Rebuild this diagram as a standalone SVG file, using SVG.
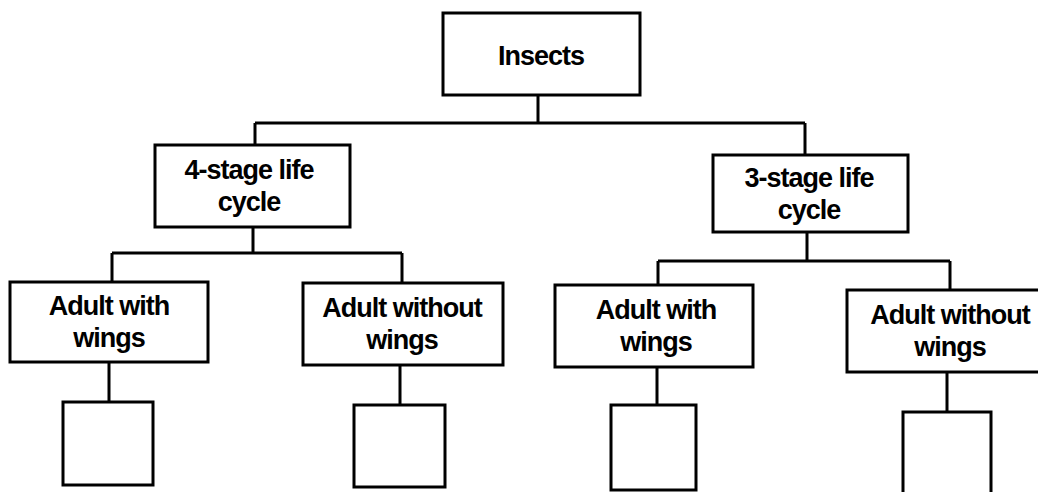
<svg xmlns="http://www.w3.org/2000/svg" width="1038" height="492" viewBox="0 0 1038 492">
<style>
.box{fill:#fff;stroke:#000;stroke-width:3}
.ln{fill:none;stroke:#000;stroke-width:3}
.t{font-family:"Liberation Sans",Arial,sans-serif;font-weight:bold;font-size:27px;letter-spacing:-1px;text-anchor:middle;fill:#000}
</style>
<rect width="1038" height="492" fill="#fff"/>
<g id="connectors">
<path class="ln" d="M538 95V123M255 123H805M255 123V145M805 123V155"/>
<path class="ln" d="M253 227V253M112 253H402M112 253V282M402 253V283"/>
<path class="ln" d="M807 232V261M658 261H950M658 261V285M950 261V290"/>
<path class="ln" d="M109 362V402M400 365V405M657 367V405M947 372V412"/>
</g>
<g id="insects"><rect class="box" x="443" y="13" width="197" height="82"/><text class="t" x="541" y="65">Insects</text></g>
<g id="four-stage"><rect class="box" x="155" y="145" width="195" height="82"/><text class="t" x="249" y="179">4-stage life</text><text class="t" x="249" y="211">cycle</text></g>
<g id="three-stage"><rect class="box" x="713" y="155" width="195" height="77"/><text class="t" x="809" y="187">3-stage life</text><text class="t" x="809" y="219">cycle</text></g>
<g id="adult-wings-1"><rect class="box" x="10" y="282" width="198" height="80"/><text class="t" x="109" y="315">Adult with</text><text class="t" x="109" y="347">wings</text></g>
<g id="adult-nowings-1"><rect class="box" x="303" y="283" width="200" height="82"/><text class="t" x="402" y="317">Adult without</text><text class="t" x="402" y="349">wings</text></g>
<g id="adult-wings-2"><rect class="box" x="555" y="285" width="198" height="82"/><text class="t" x="656" y="319">Adult with</text><text class="t" x="656" y="351">wings</text></g>
<g id="adult-nowings-2"><rect class="box" x="847" y="290" width="203" height="82"/><text class="t" x="950" y="324">Adult without</text><text class="t" x="950" y="356">wings</text></g>
<g id="blank-1"><rect class="box" x="63" y="402" width="90" height="83"/></g>
<g id="blank-2"><rect class="box" x="354" y="405" width="91" height="82"/></g>
<g id="blank-3"><rect class="box" x="611" y="405" width="85" height="85"/></g>
<g id="blank-4"><rect class="box" x="903" y="412" width="88" height="90"/></g>
</svg>
